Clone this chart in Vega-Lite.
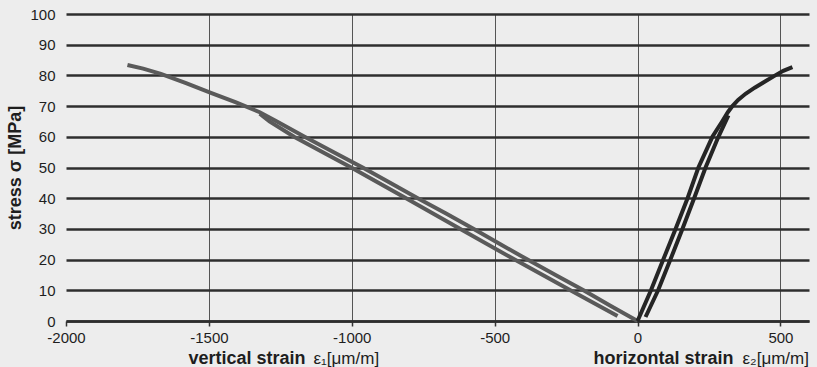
{
  "$schema": "https://vega.github.io/schema/vega-lite/v6.json",
  "autosize": {"type": "none"},
  "padding": {"left": 66, "top": 14, "right": 8, "bottom": 46},
  "width": 743,
  "height": 307,
  "background": "#ededed",
  "datasets": {
    "vertical_loading": [
      {"strain": 0, "stress": 0},
      {"strain": -95, "stress": 5},
      {"strain": -189, "stress": 10},
      {"strain": -287, "stress": 15},
      {"strain": -385, "stress": 20},
      {"strain": -480, "stress": 25},
      {"strain": -573, "stress": 30},
      {"strain": -670, "stress": 35},
      {"strain": -769, "stress": 40},
      {"strain": -866, "stress": 45},
      {"strain": -962, "stress": 50},
      {"strain": -1063, "stress": 55},
      {"strain": -1165, "stress": 60},
      {"strain": -1262, "stress": 65},
      {"strain": -1322, "stress": 68},
      {"strain": -1405, "stress": 71.2},
      {"strain": -1493, "stress": 74.3},
      {"strain": -1580, "stress": 77.5},
      {"strain": -1668, "stress": 80.5},
      {"strain": -1730, "stress": 82.2},
      {"strain": -1785, "stress": 83.4}
    ],
    "vertical_reloading": [
      {"strain": -70, "stress": 1.6},
      {"strain": -235, "stress": 10},
      {"strain": -430, "stress": 20},
      {"strain": -620, "stress": 30},
      {"strain": -810, "stress": 40},
      {"strain": -1002, "stress": 50},
      {"strain": -1202, "stress": 60},
      {"strain": -1288, "stress": 65},
      {"strain": -1322, "stress": 67.5}
    ],
    "horizontal_loading": [
      {"strain": 0, "stress": 0},
      {"strain": 47, "stress": 10},
      {"strain": 90, "stress": 20},
      {"strain": 133, "stress": 30},
      {"strain": 175, "stress": 40},
      {"strain": 213, "stress": 50},
      {"strain": 262, "stress": 60},
      {"strain": 296, "stress": 65},
      {"strain": 316, "stress": 68},
      {"strain": 332, "stress": 70},
      {"strain": 352, "stress": 72},
      {"strain": 378, "stress": 74},
      {"strain": 410, "stress": 76},
      {"strain": 446, "stress": 78},
      {"strain": 482, "stress": 80},
      {"strain": 510, "stress": 81.5},
      {"strain": 542, "stress": 82.7}
    ],
    "horizontal_reloading": [
      {"strain": 28, "stress": 1.3},
      {"strain": 72, "stress": 10},
      {"strain": 115, "stress": 20},
      {"strain": 157, "stress": 30},
      {"strain": 198, "stress": 40},
      {"strain": 238, "stress": 50},
      {"strain": 283, "stress": 60},
      {"strain": 318, "stress": 67}
    ]
  },
  "encoding": {
    "y": {
      "field": "stress",
      "type": "quantitative",
      "scale": {"domain": [0, 100], "nice": false, "zero": true},
      "axis": {
        "values": [0, 10, 20, 30, 40, 50, 60, 70, 80, 90, 100],
        "title": "stress σ [MPa]",
        "titleFont": "Liberation Sans",
        "titleFontSize": 18,
        "titleFontWeight": "bold",
        "titleColor": "#1e1e1e",
        "titleX": -46,
        "titleBaseline": "alphabetic",
        "domain": false,
        "ticks": false,
        "tickSize": 0,
        "labelPadding": 11,
        "labelFont": "Liberation Sans",
        "labelFontSize": 15,
        "labelColor": "#1e1e1e",
        "grid": true,
        "gridColor": "#2e2e2e",
        "gridWidth": 2.5
      }
    },
    "order": {"field": "stress", "type": "quantitative"}
  },
  "layer": [
    {
      "data": {"name": "vertical_loading"},
      "mark": {"type": "line", "color": "#5a5a5a", "strokeWidth": 4},
      "encoding": {
        "x": {
          "field": "strain",
          "type": "quantitative",
          "scale": {"domain": [-2000, 600], "nice": false, "zero": false},
          "axis": {
            "orient": "bottom",
            "values": [-2000, -1500, -1000, -500, 0, 500],
            "labelExpr": "'' + datum.value",
            "labelFont": "Liberation Sans",
            "labelFontSize": 15,
            "labelColor": "#1e1e1e",
            "labelPadding": 4,
            "labelFlush": false,
            "labelOverlap": false,
            "ticks": true,
            "tickSize": 5,
            "tickColor": "#333333",
            "tickWidth": 1.5,
            "domain": true,
            "domainColor": "#2e2e2e",
            "domainWidth": 2.5,
            "grid": true,
            "gridColor": "#555555",
            "gridWidth": 1,
            "gridOpacity": {"condition": {"test": "datum.value == -2000", "value": 0}, "value": 1},
            "title": "vertical strain",
            "titleFont": "Liberation Sans",
            "titleFontSize": 18,
            "titleFontWeight": "bold",
            "titleColor": "#1e1e1e",
            "titleAlign": "left",
            "titleBaseline": "alphabetic",
            "titleX": 122,
            "titleY": 42
          }
        }
      }
    },
    {
      "data": {"name": "vertical_reloading"},
      "mark": {"type": "line", "color": "#5a5a5a", "strokeWidth": 4},
      "encoding": {
        "x": {
          "field": "strain",
          "type": "quantitative",
          "axis": {
            "orient": "bottom",
            "labels": false,
            "ticks": false,
            "domain": false,
            "grid": false,
            "title": "ε₁[μm/m]",
            "titleFont": "Liberation Sans",
            "titleFontSize": 17,
            "titleFontWeight": "normal",
            "titleColor": "#1e1e1e",
            "titleAlign": "left",
            "titleBaseline": "alphabetic",
            "titleX": 247,
            "titleY": 42
          }
        }
      }
    },
    {
      "data": {"name": "horizontal_loading"},
      "mark": {"type": "line", "color": "#252525", "strokeWidth": 4},
      "encoding": {
        "x": {
          "field": "strain",
          "type": "quantitative",
          "axis": {
            "orient": "bottom",
            "labels": false,
            "ticks": false,
            "domain": false,
            "grid": false,
            "title": "horizontal strain",
            "titleFont": "Liberation Sans",
            "titleFontSize": 18,
            "titleFontWeight": "bold",
            "titleColor": "#1e1e1e",
            "titleAlign": "left",
            "titleBaseline": "alphabetic",
            "titleX": 527,
            "titleY": 42
          }
        }
      }
    },
    {
      "data": {"name": "horizontal_reloading"},
      "mark": {"type": "line", "color": "#252525", "strokeWidth": 4},
      "encoding": {
        "x": {
          "field": "strain",
          "type": "quantitative",
          "axis": {
            "orient": "bottom",
            "labels": false,
            "ticks": false,
            "domain": false,
            "grid": false,
            "title": "ε₂[μm/m]",
            "titleFont": "Liberation Sans",
            "titleFontSize": 17,
            "titleFontWeight": "normal",
            "titleColor": "#1e1e1e",
            "titleAlign": "left",
            "titleBaseline": "alphabetic",
            "titleX": 676,
            "titleY": 42
          }
        }
      }
    }
  ],
  "resolve": {"axis": {"x": "independent"}},
  "config": {
    "view": {"stroke": null}
  }
}
